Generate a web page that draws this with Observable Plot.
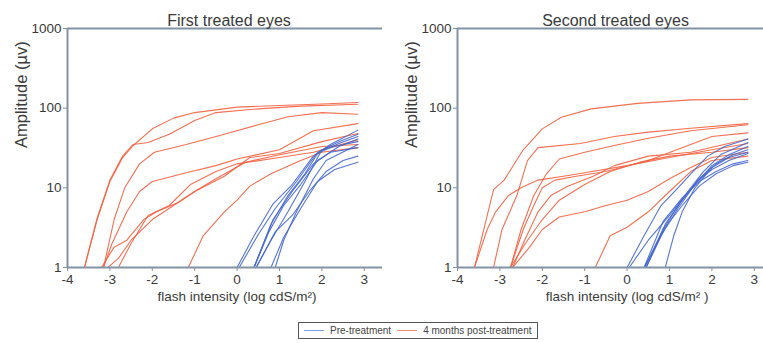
<!DOCTYPE html>
<html>
<head>
<meta charset="utf-8">
<script src="https://cdn.jsdelivr.net/npm/d3@7"></script>
<script src="https://cdn.jsdelivr.net/npm/@observablehq/plot@0.6"></script>
<style>
  body { margin: 0; background: #fff; font-family: "Liberation Sans", Arial, sans-serif; }
  #row { display: flex; width: 763px; height: 308px; overflow: hidden; }
  #legend { display: inline-flex; align-items: center; margin-left: 298px; margin-top: 14px;
    border: 1px solid #555; height: 15px; padding: 0 5px; font-size: 10px; color: #444; gap: 6px; }
  .sw { display: inline-block; width: 20px; height: 0; border-top: 1.5px solid; }
</style>
</head>
<body>
<div id="row"></div>
<div id="legend"></div>
<script>
// ---- data: each curve is a list of [log intensity, amplitude µV] ----
const titles = ["First treated eyes", "Second treated eyes"];
const xLabels = ["flash intensity (log cdS/m\u00B2)", "flash intensity (log cdS/m\u00B2 )"];
const yLabel = "Amplitude (\u00B5v)";
const yTicks = [1, 10, 100, 1000];
const xTicks = [-4, -3, -2, -1, 0, 1, 2, 3];
const seriesNames = ["Pre-treatment", "4 months post-treatment"];

const firstPost = [
  [[-3.6,1],[-3.3,4],[-3,12],[-2.7,24],[-2.45,34],[-2,55],[-1.5,75],[-1,88],[0,103],[1,108],[2,113],[2.85,118]],
  [[-3.6,1],[-3.3,4.2],[-3,12.5],[-2.7,25],[-2.45,35],[-2.1,37],[-1.6,47],[-1,70],[-0.5,88],[0.5,98],[1.5,106],[2.85,112]],
  [[-3.15,1],[-2.9,4],[-2.65,10],[-2.3,20],[-1.95,28],[-1.2,35],[-0.3,47],[0.5,62],[1.2,78],[2,88],[2.85,84]],
  [[-3.15,1],[-2.95,2],[-2.6,5],[-2.3,9],[-2,12],[-1.2,15.5],[-0.5,19],[0,23],[1,30],[1.8,52],[2.85,64]],
  [[-3.2,1],[-2.9,1.8],[-2.6,2.2],[-2.2,4],[-1.9,5],[-1.4,6.5],[-1,9],[-0.3,14],[0.3,24],[1,27],[2,38],[2.85,48]],
  [[-2.8,1],[-2.5,2],[-2.1,4.5],[-1.6,6],[-1.1,11],[-0.5,16],[0,20],[1,24],[1.8,28],[2.85,40]],
  [[-3.05,1],[-2.8,1.3],[-2.5,2.2],[-2,4],[-1.5,6],[-1,9],[-0.5,13],[0.2,21],[1,26],[2,33],[2.85,35]],
  [[-1.15,1],[-0.8,2.5],[-0.3,5],[0,7],[0.3,10.5],[0.8,15],[1.5,22],[2,28],[2.85,32]]
];
const firstPre = [
  [[0,1],[0.4,2.5],[0.85,6.3],[1.3,11],[1.8,25],[2.2,35],[2.85,53]],
  [[0.05,1],[0.5,2.6],[0.9,5.5],[1.4,12],[1.9,28],[2.4,38],[2.85,47]],
  [[0.4,1],[0.8,3.5],[1.2,8],[1.6,15],[1.9,27],[2.4,36],[2.85,44]],
  [[0.4,1],[0.75,2.8],[1.1,6],[1.5,11],[1.9,22],[2.4,33],[2.85,41]],
  [[0.45,1],[0.8,2.2],[1.2,5],[1.6,12],[2,30],[2.4,34],[2.85,38]],
  [[0.9,1],[1.1,2.2],[1.4,5],[1.8,13],[2.1,22],[2.85,35]],
  [[0.45,1],[0.9,2.8],[1.3,4.5],[1.7,9],[2.1,16],[2.5,22],[2.85,25]],
  [[0.8,1],[1.1,2.4],[1.5,5.5],[1.9,12],[2.3,17],[2.85,21]],
  [[0.4,1],[0.85,4],[1.3,9],[1.8,20],[2.2,28],[2.85,32]]
];
const secondPost = [
  [[-3.6,1],[-3.15,9.5],[-2.9,12.5],[-2.45,30],[-2,55],[-1.55,77],[-0.85,98],[0.25,115],[1.5,127],[2.85,129]],
  [[-3.15,1],[-2.95,3],[-2.6,8],[-2.35,22],[-2.1,32],[-1.1,36],[-0.3,44],[0.5,50],[1.5,56],[2.85,64]],
  [[-2.75,1],[-2.5,3],[-2.2,8],[-1.9,15],[-1.6,23],[-1,28],[-0.3,34],[0.5,42],[1.5,52],[2.85,62]],
  [[-2.75,1],[-2.45,3],[-2.2,6],[-2,10],[-1.7,12.5],[-1.2,14],[-0.5,16],[0.5,22],[1.5,35],[2,44],[2.85,49]],
  [[-2.7,1],[-2.4,2.3],[-2.1,5],[-1.8,8],[-1.4,10.5],[-0.8,14],[-0.3,19],[0.5,25],[1.5,28],[2.85,41]],
  [[-2.75,1],[-2.4,2],[-2,4],[-1.6,7],[-1,11],[-0.4,16],[0.3,21],[1,25],[2,28],[2.85,32]],
  [[-2.7,1],[-2.3,1.8],[-2,3],[-1.6,4.3],[-1,5],[-0.5,6],[0,7],[0.5,9],[1,13],[1.5,18],[2,24],[2.85,28]],
  [[-0.75,1],[-0.4,2.5],[0,3.2],[0.5,5],[1,9],[1.5,16],[2,22],[2.85,25]],
  [[-3.6,1],[-3.3,3],[-3.1,5],[-2.8,8],[-2.5,10],[-2.1,12.5],[-1.5,14],[-1,15.5],[0,19],[1,24],[2,30],[2.85,36]]
];
const secondPre = [
  [[0,1],[0.4,2.5],[0.8,6],[1.2,10],[1.6,17],[1.9,25],[2.3,33],[2.85,41]],
  [[0.05,1],[0.5,2.2],[1,4.5],[1.4,8.5],[1.8,16],[2.2,26],[2.85,37]],
  [[0.4,1],[0.8,2.5],[1.2,5.5],[1.6,11],[2,19],[2.4,26],[2.85,33]],
  [[0.42,1],[0.9,3.5],[1.3,7],[1.7,13],[2.1,20],[2.5,26],[2.85,30]],
  [[0.45,1],[0.85,3],[1.25,6.5],[1.65,12],[2,17],[2.4,22],[2.85,27]],
  [[0.9,1],[1.1,2.5],[1.3,5],[1.6,10],[2,18],[2.4,24],[2.85,28]],
  [[0.45,1],[0.9,3.2],[1.3,6],[1.7,10.5],[2.1,15],[2.5,19],[2.85,21]],
  [[0.4,1],[0.85,3.8],[1.3,7.5],[1.7,12],[2.1,16],[2.5,20],[2.85,22]]
];

const RED = "#f2603f";
const BLUE = "#4366cc";
const AXIS = "#8193a4";
const TEXT = "#3a3a3a";

function rows(curves, group) {
  const out = [];
  curves.forEach((c, i) => c.forEach(([x, y]) => out.push({id: group + i, x, y})));
  return out;
}

function panel(idx, post, pre, width, marginLeft, xMax, titleDx) {
  return Plot.plot({
    width, height: 308,
    marginLeft, marginRight: width === 385 ? 3 : 0, marginTop: 28, marginBottom: 41,
    style: {fontFamily: "Liberation Sans, Arial, sans-serif", fontSize: "13px", color: TEXT, background: "white"},
    x: {domain: [-4, xMax]},
    y: {type: "log", domain: [1, 1000]},
    marks: [
      Plot.line(rows(post, "r"), {x: "x", y: "y", z: "id", stroke: RED, strokeWidth: 1.1, strokeOpacity: 0.9, clip: true}),
      Plot.line(rows(pre, "b"), {x: "x", y: "y", z: "id", stroke: BLUE, strokeWidth: 1.1, strokeOpacity: 0.9, clip: true}),
      Plot.ruleY([1000], {stroke: AXIS, strokeWidth: 2}),
      Plot.ruleY([1], {stroke: AXIS, strokeWidth: 2}),
      Plot.ruleX([-4], {stroke: AXIS, strokeWidth: 2}),
      Plot.axisX({ticks: xTicks, tickFormat: d => d < 0 ? "-" + Math.abs(d) : String(d), tickSize: 4, tickPadding: 3, stroke: AXIS, fill: TEXT, fontSize: 13.5, label: null}),
      Plot.axisY({ticks: yTicks, tickFormat: d => String(d), tickSize: 4, tickPadding: 2, stroke: AXIS, fill: TEXT, fontSize: 13.5, label: null}),
      Plot.text([titles[idx]], {frameAnchor: "top", dy: -14, dx: titleDx, text: d => d, fontSize: 16, fill: TEXT}),
      Plot.text([xLabels[idx]], {x: 0, frameAnchor: "bottom", dy: 33, text: d => d, fontSize: 13.5, fill: TEXT}),
      Plot.text([yLabel], {frameAnchor: "left", dx: -46, rotate: -90, text: d => d, fontSize: 16.5, fill: TEXT})
    ]
  });
}

const row = document.getElementById("row");
row.append(panel(0, firstPost, firstPre, 385, 67, 3.43, 4));
row.append(panel(1, secondPost, secondPre, 378, 72, 3.217, 5));

const legend = document.getElementById("legend");
[[seriesNames[0], "#7fa0e0"], [seriesNames[1], "#f58a70"]].forEach(([name, col]) => {
  const item = document.createElement("span");
  item.style.display = "inline-flex"; item.style.alignItems = "center"; item.style.gap = "6px";
  const sw = document.createElement("span"); sw.className = "sw"; sw.style.borderColor = col;
  const t = document.createElement("span"); t.textContent = name;
  item.append(sw, t); legend.append(item);
});
</script>
</body>
</html>
